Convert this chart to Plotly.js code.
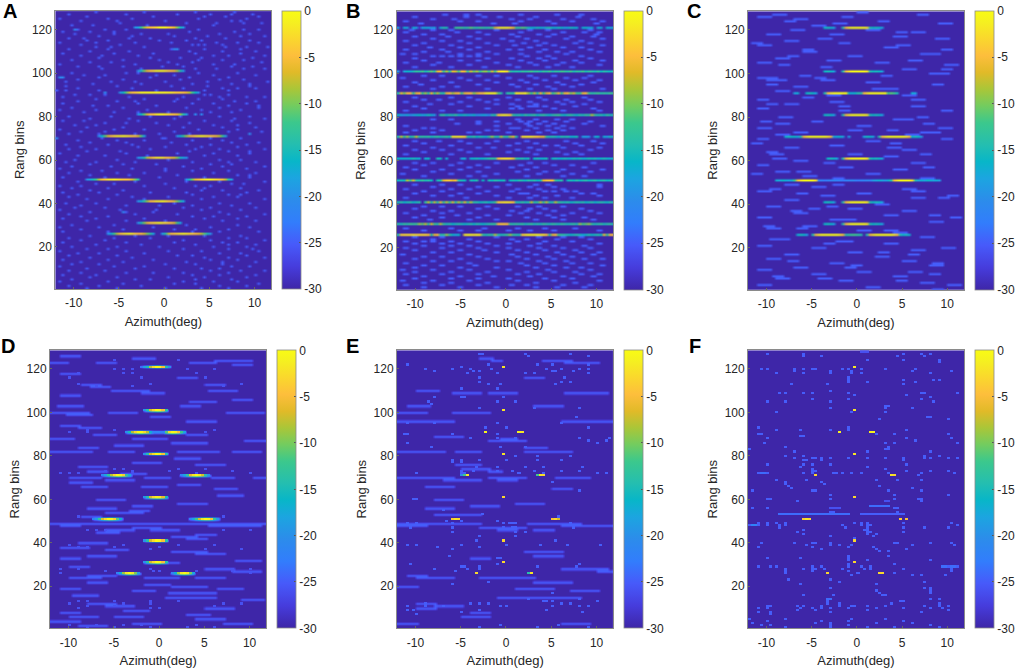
<!DOCTYPE html>
<html>
<head>
<meta charset="utf-8">
<script src="https://cdn.plot.ly/plotly-3.0.1.min.js"></script>
<style>html,body{margin:0;padding:0;background:#fff}#chart{width:1017px;height:669px}</style>
</head>
<body>
<div id="chart"></div>
<script>
const x_ticks = [-10, -5, 0, 5, 10];
const x_tick_labels = ["-10", "-5", "0", "5", "10"];
const y_ticks = [20, 40, 60, 80, 100, 120];
const cb_ticks = [0, -5, -10, -15, -20, -25, -30];
const cb_tick_labels = ["0", "-5", "-10", "-15", "-20", "-25", "-30"];
const panel_letters = ["A", "B", "C", "D", "E", "F"];

// parula
const parula = [[0,"rgb(62,38,168)"],[0.08,"rgb(70,60,220)"],[0.16,"rgb(71,90,250)"],[0.24,"rgb(50,125,252)"],[0.32,"rgb(44,140,235)"],[0.4,"rgb(28,165,224)"],[0.46,"rgb(8,182,200)"],[0.52,"rgb(36,190,176)"],[0.6,"rgb(60,200,140)"],[0.66,"rgb(115,204,95)"],[0.72,"rgb(170,198,56)"],[0.78,"rgb(225,186,40)"],[0.84,"rgb(253,190,60)"],[0.9,"rgb(250,215,45)"],[0.96,"rgb(245,240,32)"],[1,"rgb(249,251,20)"]];

// A
const A_ridge_rows = [121,101,91,81,71,71,61,51,51,41,31,26,26];
const A_ridge_start = [-3.3,-2.76,-4.9,-2.9,-7.2,1.36,-3,-8.4,2.6,-2.9,-2.76,-6.1,-0.1];
const A_ridge_db = [
 [-20,-18,-13,-9,-6,-5,-4,-3,-1,-1,-1,-3,-4,-6,-10,-15,-19],
 [-20,-15,-10,-6,-4,-3,-1,-1,-1,-2,-4,-5,-6,-9,-14,-19],
 [-20,-16,-11,-7,-5,-4,-3,-1,-1,-1,-1,-1,-1,-1,-1,-1,-2,-2,-3,-4,-4,-5,-6,-8,-12,-16,-20],
 [-20,-16,-11,-7,-5,-4,-2,-1,-1,-2,-3,-4,-5,-6,-9,-14,-19],
 [-20,-16,-11,-7,-5,-3,-2,-2,-1,-2,-3,-4,-5,-7,-11,-18],
 [-20,-17,-13,-9,-6,-5,-3,-2,-1,-2,-3,-4,-5,-6,-8,-12,-19],
 [-20,-18,-14,-8,-6,-4,-2,-2,-2,-4,-5,-6,-7,-10,-15,-18,-20],
 [-20,-18,-15,-12,-8,-5,-4,-2,-2,-1,-2,-3,-4,-4,-5,-7,-10,-14],
 [-20,-15,-10,-6,-5,-3,-2,-1,-1,-2,-3,-4,-5,-8,-14,-19],
 [-20,-17,-13,-9,-5,-4,-2,-2,-1,-2,-4,-5,-7,-10,-14,-18],
 [-20,-15,-10,-6,-4,-3,-2,-1,-2,-3,-4,-5,-7,-12,-18],
 [-20,-17,-12,-8,-5,-3,-2,-1,-2,-4,-5,-5,-7,-10,-13,-18],
 [-19,-14,-8,-5,-4,-3,-2,-1,-2,-3,-4,-5,-6,-8,-11,-15,-20]
];
const A_speck_rows = [128,127,126,125,124,123,122,120,119,118,117,116,115,114,113,112,111,110,109,108,107,106,105,104,103,102,100,99,98,97,96,95,94,93,92,90,89,88,87,86,85,84,83,82,80,79,78,77,76,75,74,73,72,70,69,68,67,66,65,64,63,62,60,59,58,57,56,55,54,53,52,50,49,48,47,46,45,44,43,42,40,39,38,37,36,35,34,33,32,30,29,28,27,25,24,23,22,21,20,19,18,17,16,15,14,13,12,11,10,9,8,7,6,5,4,3,2,1];
const A_speck_az = [[-7.4,-2.2,3.3,7.9],[-10.7,-4.1,1.6,5.2,7.6,9.8],[-8.6,-1.3,4.4,6.8,10.4],[-11.4,-6.2,-3.4,3.7,9.1],[-9.3,-5.1,0.2,7.4,8.3],[-4.8,2.6,5.9,8.7,10.9],[-10.2,-7.8,-1.9,5.5],[-9.7,-6.6,-4.3,3.9,8.8,10.3],[-11.1,-8.2,-5.4,2.9,7.7],[-9.9,-5.7,-2.6,0.6,6.1,9.6],[-7.2,-3.7,1.2,4.8,8.4,11.2],[-10.6,-8.9,-3.9,-1.7,3.4,6.9],[-8.7,-6.3,-0.4,2.3,4.2,9.4],[-11.5,-7.6,-3.2,0.8,5.8,8.1,10.6],[-9.1,-4.9,3.1,3.7,4.4,6.6],[-7.7,-5.8,-2.3,6.7,9.2,11.3],[-10.4,-6.1,0.7,1,1.3,1.6,4.6,8.6],[-8.3,-3.8,2.7,6.4,10.2],[-11.2,-5.6,-1.2,3.6,8.3],[-9.2,-6.9,-2.9,5.3,7.1,11],[-7.3,-1.6,1.7,4.1,9.7],[-10.1,-4.4,-0.6,3.8,6.3,8.9],[-8.1,-5.9,0.3,3.2,10.7],[-11.6,-3.1,1.4,5.6,7.8],[-9.6,-7.1,-4.7,-0.2,2.1,7.3,9.9],[-6.8,-2.7,3.5,5.9,8.9,11.1],[-10.3,-4.2,-2.8,3.9,8.2],[-8.8,-6.4,-0.9,1.1,5.4,10.1],[-11.7,-11.4,-7.2,-1.4,2.8,7],[-9.4,-4.6,1.9,6,8.8],[-10.9,-6,-3.3,0.1,4.7,11.3],[-7.9,-2.4,3,7.5,9.3],[-11,-5.2,0.9,4.9,9.5],[-9.7,-3.6,2.2,6.5,8,10],[-11.8,-11,-7.3,-0.8,4.3,7.2],[-10,-8.1,-6.4,4.5,5,7],[-11.3,-4,2,6.2,9,11],[-7.5,-2.1,1.3,3.8,6.6],[-9.5,-5.3,-3.1,1,7.9,10],[-11.1,-2.9,3.1,5.6,9.2],[-8,-6.2,-0.9,7.1,10.6],[-10.1,-4.5,2.5,6.1,10.4],[-11.4,-7.4,-2,4.1,8.6],[-9,-5.5,-3,0.5,5.2,7.6],[-10.6,-5.9,-1.5,1.9,6.2,9.4],[-8.2,-3.9,1.1,7.9,11],[-11.2,-8.9,-2.9,4.6,7.4],[-6.6,-4.3,-0.9,2.9,9.6],[-10,-7.6,0.6,5.4,8.2],[-8.4,-4.6,2,6.4,10.1],[-11.6,-5.6,-2.1,3.9,8.1],[-9.1,-6.6,1.1,7.1,10.8],[-10.4,-7.1,-3.1,-0.5,2.9,9.6],[-11.9,-7,-0.3,0,5,8.4],[-9.4,-5.1,-2.1,3.2,6.6],[-8.1,-4.1,0.9,7.6,10.5],[-11,-6.1,-3.4,2.6,5.1,9],[-9.2,-3,0.2,4,8.1],[-10.6,-7.4,-1.6,3.4,6,11],[-8.6,-5,2.9,7.2,9.4],[-11.5,-4.1,1.6,5.4,9.6],[-9.6,-6.4,-2,4.6,8],[-10,-5.1,0.6,6.1,8.6],[-11,-7.6,-3.1,3.1,7.1,10],[-8.1,-4.4,-1,5.1,7.6],[-10.2,-6,2.1,6.4,11],[-11.4,-3.6,0,4.1,9],[-9.1,-7,0.1,3.1,7.1],[-10.6,-5.1,-2.1,5.6,10.2],[-8.1,-3.9,1.6,8.1,9.5],[-11.1,-6.6,-0.6,4.6,9.6],[-9.6,-3.1,2.6,6.1,11],[-7.6,-5.6,0.1,7.6,8.8],[-11.6,-9.1,-2.1,3.6,5.1],[-10.1,-6.1,1.1,4.5,8.6],[-8.1,-4.6,4.1,6.6,10.6],[-11.1,-7.1,-1.6,2.6,9.1],[-9.6,-5.1,3.1,7.1,8.3],[-10.6,-3.6,0.6,5.6,8.1],[-8.6,-6.1,-2.1,4.1,11],[-11,-7.6,1.1,6.1,9.6],[-9.2,-4.1,-0.6,3.1,7.6],[-10,-6.6,2.1,5,10],[-11.6,-5,-1,4.1,8.6],[-8.1,-4.7,-4.3,-1.1,6.1],[-10.6,-3.1,1.6,7.1,11],[-9.1,-6.1,3.1,5.6,9.1],[-11.1,-7.6,-2.1,4.6,8],[-8.6,-4.1,0.1,6.6,10.1],[-10.1,-5.6,2.6,8.1],[-11.6,-7.1,-1.1,5.1,9.6],[-9.1,-4.6,1.1,3.6,7.1],[-11.2,-6.1,3.1,6.1,10.6],[-8.1,-3.1,0.6,4.6,8.6],[-10.6,-5.6,-1.6,7.1,9.1],[-9.1,-6.6,2.1,5.1,11],[-11.1,-4.1,1.1,6.6,8.1],[-7.6,-2.6,3.6,7.1,10],[-10.1,-5.1,-0.6,5.6,9.1],[-8.6,-6.1,2.1,7.1,9.8],[-11.6,-4.1,0.6,4.1,10.6],[-9.6,-7.1,-2.1,6.1,8.6],[-10.6,-5.1,1.6,3.1,9.1],[-8.1,-3.6,4.6,7.1,11],[-11.1,-6.1,-1.1,5.1,8.1],[-9.1,-4.6,2.6,6.6,10.1],[-10.1,-7.1,0.1,3.6,6.6],[-11.6,-5.6,-2.1,7.6,9.6],[-8.6,-3.1,1.1,4.1,6.1],[-10.6,-6.6,5.1,8.6,11],[-9.1,-4.1,-1.1,2.1,7.1],[-11.1,-7.6,3.1,6.1,10.1],[-8.1,-5.1,0.6,4.6,9.1],[-10.1,-3.1,-1.6,3.6,7.6],[-11.6,-6.1,2.1,5.6,8.1],[-9.1,-4.6,1.1,3.6,10.6],[-10.6,-7.1,-2.6,6.1,9.1],[-8.6,-5.1,0.1,4.1,7.1]];
const A_hot_rows = [111,98,120,91,81,81,72,70,36];
const A_hot_az = [[1,1.3,1.6],[-11.6,-11.3],[-9.8],[-6.4],[3.4],[4],[9.6],[-11.9],[-4.6]];

// B
const B_line_rows = [121,101,91,81,71,61,51,41,31,26];
const B_line_db = [
 [-18,-30,-17,-18,-30,-17,-18,-28,-18,-17,-18,-19,-18,-30,-17,-14,-15,-30,-30,-13,-12,-12,-14,-13,-11,-13,-14,-12,-13,-14,-13,-12,-7,-3,-1,-1,-1,-3,-6,-12,-13,-11,-12,-15,-16,-17,-15,-16,-18,-15,-14,-16,-17,-15,-16,-18,-17,-15,-16,-17,-30,-17,-16,-18,-17,-30,-18,-17,-30,-17,-18,-17],
 [-19,-30,-18,-16,-17,-15,-13,-14,-12,-15,-13,-11,-14,-6,-5,-13,-8,-14,-6,-7,-12,-5,-6,-13,-7,-11,-8,-13,-10,-9,-13,-7,-12,-3,-1,-1,-3,-13,-15,-14,-15,-13,-14,-13,-12,-14,-13,-15,-13,-14,-12,-15,-13,-14,-12,-13,-14,-12,-15,-13,-14,-12,-15,-13,-14,-15,-13,-16,-14,-15,-16,-14],
 [-14,-6,-10,-5,-5,-12,-6,-5,-12,-9,-13,-6,-12,-8,-13,-14,-6,-5,-9,-6,-5,-12,-6,-5,-5,-10,-7,-5,-5,-1,-1,-1,-1,-11,-14,-30,-14,-13,-14,-1,-2,-2,-1,-9,-12,-8,-13,-6,-12,-7,-5,-13,-10,-6,-12,-6,-5,-10,-7,-12,-13,-6,-5,-12,-14,-13,-12,-14,-13,-14,-12,-13],
 [-16,-18,-19,-17,-20,-18,-17,-16,-18,-17,-15,-17,-19,-30,-14,-13,-16,-14,-15,-13,-17,-16,-15,-17,-18,-16,-20,-19,-17,-18,-21,-14,-15,-4,-2,-1,-2,-4,-13,-15,-14,-16,-13,-15,-14,-13,-16,-14,-13,-15,-16,-14,-13,-12,-15,-16,-14,-13,-15,-16,-14,-15,-13,-14,-8,-13,-15,-14,-16,-13,-15,-14],
 [-14,-8,-13,-9,-15,-13,-8,-14,-13,-14,-13,-15,-14,-13,-15,-14,-13,-15,-2,-2,-2,-2,-4,-14,-15,-13,-16,-14,-15,-17,-13,-9,-14,-15,-8,-13,-14,-9,-6,-14,-30,-3,-2,-2,-2,-3,-4,-6,-6,-13,-15,-14,-15,-17,-14,-15,-14,-17,-16,-15,-30,-19,-18,-20,-30,-18,-16,-30,-17,-19,-15,-17],
 [-16,-17,-16,-17,-16,-15,-16,-17,-30,-17,-16,-30,-30,-15,-16,-30,-17,-30,-30,-30,-30,-18,-17,-30,-17,-16,-15,-17,-16,-15,-14,-13,-14,-5,-3,-2,-2,-3,-6,-13,-15,-14,-16,-15,-30,-16,-15,-17,-16,-15,-30,-16,-15,-17,-16,-15,-16,-17,-15,-16,-15,-17,-16,-15,-16,-15,-17,-16,-15,-16,-17,-16],
 [-16,-15,-16,-8,-12,-7,-14,-15,-13,-15,-14,-16,-30,-15,-14,-6,-4,-4,-6,-5,-14,-15,-16,-30,-15,-16,-14,-30,-16,-30,-15,-16,-14,-15,-16,-15,-30,-16,-15,-16,-14,-15,-16,-14,-15,-14,-16,-15,-6,-4,-4,-5,-13,-15,-14,-30,-16,-15,-16,-14,-16,-15,-14,-16,-15,-14,-16,-15,-14,-16,-15,-13],
 [-15,-14,-16,-15,-14,-16,-15,-14,-30,-13,-8,-14,-8,-14,-6,-13,-8,-13,-7,-14,-8,-13,-7,-14,-8,-14,-14,-16,-15,-14,-16,-15,-12,-4,-3,-2,-2,-3,-5,-14,-15,-13,-15,-14,-8,-14,-13,-8,-13,-8,-15,-14,-8,-13,-14,-15,-14,-16,-15,-14,-15,-14,-16,-15,-14,-16,-15,-14,-15,-16,-14,-15],
 [-14,-15,-13,-14,-12,-13,-12,-9,-11,-8,-13,-7,-12,-14,-8,-13,-15,-14,-16,-15,-14,-15,-16,-15,-14,-16,-14,-15,-16,-15,-14,-13,-13,-5,-4,-4,-5,-13,-14,-13,-14,-13,-15,-14,-13,-15,-14,-15,-13,-14,-15,-13,-14,-15,-13,-14,-15,-14,-13,-15,-9,-12,-11,-9,-13,-15,-14,-13,-15,-14,-13,-15],
 [-14,-4,-3,-3,-3,-2,-3,-3,-3,-3,-5,-13,-6,-5,-14,-13,-9,-13,-16,-18,-16,-30,-2,-1,-1,-2,-1,-2,-13,-15,-13,-14,-8,-13,-15,-14,-12,-9,-13,-14,-15,-4,-2,-1,-1,-1,-1,-2,-2,-5,-13,-6,-5,-12,-13,-14,-15,-16,-15,-14,-15,-17,-16,-14,-16,-15,-14,-16,-6,-13,-5,-4]
];
const B_speck_rows = [127,126,125,124,123,120,119,118,117,116,115,114,113,112,111,110,109,108,107,106,105,104,103,99,98,97,96,95,94,93,89,88,87,86,85,84,83,79,78,77,76,75,74,73,69,68,67,66,65,64,63,59,58,57,56,55,54,53,49,48,47,46,45,44,43,39,38,37,36,35,34,33,29,28,25,24,23,22,21,20,19,18,17,16,15,14,13,12,11,10,9,8,7,6,5,4,3,2];
const B_speck_az = [[-6.8,-4.7,-3.1,1.3,5.4,8.2],[-10.3,-4.4,-2.6,-0.9,3.2,7.7],[-8.1,-5.9,0.4,2.3,6.2,9.3],[-11.2,-5.2,-3.3,1.6,4.4,7.1,10.6],[-9.4,-1.7,0.7,5.2,9.8],[-10.4,-8.2,-6.3,-1.2,2.3,4.4,9.1],[-11.3,-5.4,-3.2,1.4,6.2,8.4,10.2],[-9.2,-7.3,-2.1,0.3,3.4,5.2,9.8],[-10.1,-6.4,-4.2,1.2,4.3,7.1,9.3],[-8.3,-3.1,-0.7,2.2,6.4,10.3],[-11.2,-7.3,-5.1,0.6,3.1,8.2],[-9.3,-4.2,-2.3,1.7,4.1,7.3,9.2],[-10.2,-6.1,-1.3,0.7,3.3,5.2,10.4],[-8.4,-5.3,-3.1,2.4,6.2,8.1],[-11.1,-7.2,-4.3,0.2,1.3,4.1,9.2],[-9.2,-6.4,-2.1,3.3,5.4,7.2,10.1],[-11.4,-10.2,-5.3,-3.2,-1.1,1.4,6.3],[-8.3,-7.1,-6.2,-5.1,-4.2,-3.3,2.1,4.4,8.2],[-10.1,-2.2,0.3,3.4,5.1,9.2],[-9.3,-5.1,-3.2,1.3,4.2,7.4,10.5],[-11.1,-7.4,-1.2,2.3,6.1,8.2],[-8.2,-4.3,0.2,3.1,5.4,10.2],[-10.3,-6.2,-2.4,1.1,4.3,7.2],[-9.1,-7.3,-3.2,-1.1,2.4,5.2,9.1],[-11.4,-5.3,0.1,3.2,6.3,8.4],[-8.3,-4.1,-2.2,1.4,4.1,7.3,10.1],[-10.2,-6.3,-1.1,2.2,5.3,9.4],[-9.4,-3.1,0.3,3.2,6.1,8.2],[-11.1,-7.2,-5.4,1.1,4.3,7.1],[-8.1,-2.3,2.4,5.1,10.3],[-10.3,-6.1,-4.2,0.2,3.3,8.4],[-9.2,-7.4,-3.1,-1.3,1.2,4.1,6.3,9.1],[-11.3,-5.1,-2.2,2.3,5.4,7.2,10.1],[-8.4,-6.2,-1.1,0.3,3.1,6.2,8.3],[-10.1,-4.3,1.2,2.3,3.2,4.1,7.4],[-9.3,-2.1,0.6,1.6,5.2,9.3],[-11.2,-7.1,-5.3,3.4,6.1,10.2],[-8.3,-6.1,1.2,3.1,5.3,7.2],[-3.2,-1.1,1.3,2.4,4.1,6.3,9.2],[-5.4,-3.3,0.2,2.1,3.4,5.1,8.3],[-11.1,-1.2,2.3,4.4,6.1,10.4],[-9.3,-8.1,0.3,1.1,3.2,5.4,7.1],[-10.2,-7.1,-2.3,-1.1,2.2,4.3,6.1],[-11.3,-8.2,-4.1,-3.2,0.1,3.3,5.2],[-10.1,-7.4,-5.2,-1.3,2.1,6.3,9.4],[-9.2,-4.1,-2.3,1.2,3.1,7.4,10.5],[-11.3,-6.2,0.1,4.2,5.3,8.1],[-8.2,-3.1,-1.4,2.3,6.1,10.2],[-10.3,-7.1,-5.2,1.1,3.3,9.2],[-9.1,-4.3,0.2,2.1,5.3,7.4],[-11.2,-6.1,-2.3,3.2,6.4,8.1],[-10.1,-8.3,-5.1,-1.2,2.3,4.1,9.3],[-9.3,-6.2,-3.1,1.4,5.2,7.1],[-11.1,-4.3,-2.1,0.3,3.2,8.4],[-10.2,-7.3,-5.1,2.2,6.1,10.3],[-8.1,-3.3,1.1,4.2,5.3,9.1],[-11.4,-6.1,-1.2,3.3,7.1],[-9.2,-4.1,-2.4,2.1,6.2,8.3],[-10.3,-7.2,-5.3,0.1,3.2,4.3,10],[-8.2,-3.1,-1.3,2.4,5.1,10.2],[-11.1,-6.3,-4.1,1.2,3.4,6.1],[-9.3,-7.1,-2.2,0.3,4.1,5.2,6.3,7.4],[-10.2,-5.1,-3.3,1.4,2.2,8.1,9.3],[-8.3,-6.1,-1.1,3.2,5.4,10.1],[-11.2,-4.4,0.1,2.3,4.2,7.1],[-9.1,-7.3,-5.2,-2.1,1.1,3.3,6.2],[-10.3,-3.1,-1.2,2.4,4.1,8.2],[-8.2,-6.3,0.3,2.1,5.2,9.1],[-11.1,-7.2,-4.1,1.3,3.4,7.1,10.2],[-9.3,-5.4,-2.1,0.1,4.3,6.2],[-10.1,-7.3,-3.2,2.2,5.1,8.4],[-8.4,-4.1,-1.3,3.1,6.2,9.3],[-11.2,-6.1,-2.4,1.1,4.2,7.3],[-9.1,-5.3,-3.1,0.2,2.4,5.1,10.1],[-10.3,-7.2,-1.1,3.3,6.1,8.2],[-8.1,-4.2,0.3,2.2,5.4,9.1],[-11.3,-9.1,-8.2,-6.1,-3.3,1.2,4.1,7.2],[-10.1,-7.3,-5.2,-2.1,0.2,3.4,10.1],[-9.2,-6.1,-4.3,-1.1,2.3,5.2,8.4],[-11.1,-7.2,-3.1,0.1,3.3,6.2,9.1],[-10.3,-5.1,-2.4,1.2,4.1,7.3],[-8.2,-6.3,-1.1,2.1,5.4,8.1,10.2],[-11.4,-4.1,0.3,3.2,6.1,9.3],[-9.1,-7.3,-3.2,1.1,4.4,7.1],[-10.2,-5.3,-2.1,2.2,5.1,8.3,10.4],[-8.3,-6.1,-1.2,0.1,3.3,6.4],[-11.1,-4.2,1.4,4.1,7.2,9.1],[-9.3,-7.1,-3.4,2.1,5.2,10.3],[-10.1,-5.2,-1.1,3.1,6.3,8.2],[-11.5,-8.2,-4.1,0.2,4.3,9.1],[-10.2,-6.1,-2.3,2.2,5.1,7.4],[-11.1,-7.3,-3.2,1.1,3.3,8.2,10.1],[-9.2,-5.1,-1.4,2.3,6.1,9.3],[-10.3,-6.2,-3.1,0.1,4.2,7.1],[-11.5,-8.1,-4.3,1.2,5.1,10.2],[-9.1,-6.3,-2.1,3.2,7.4],[-11.2,-7.1,-3.3,0.3,2.1,6.2,9.1],[-9.3,-5.1,-1.2,3.1,5.3,8.4]];

// C
const C_ridge_rows = [121,121,121,101,101,101,91,91,91,91,91,91,91,81,81,81,71,71,71,71,71,71,71,61,61,61,51,51,51,51,51,41,41,41,31,31,31,26,26,26,26,26];
const C_ridge_start = [-3.4,-1.6,1.8,-3.4,-1.6,1.8,-7,-5.5,-3.7,-0.9,0.45,3.6,6,-3.4,-1.6,1.9,-7.8,-6.1,-2.5,-0.8,0.8,2.4,6,-3.2,-1.6,1.9,-9,-7,-4.2,1.7,3.75,-3.4,-1.6,1.9,-3.4,-1.6,1.9,-6.7,-4.9,-1,1.2,5];
const C_core = [-14,-5,-2,0,0,0,0,0,-2,-14];
const C_core_long = [-14,-5,-2,0,0,0,0,0,0,-2,-5,-14];
const C_side = [-16,-15,-16,-18];
const C_ridge_db = [C_side,C_core,C_side,C_side,C_core,C_side,[-18,-17],C_side,C_core_long,[-16,-17,-16],C_core_long,[-12,-11,-12,-15],[-17,-18],C_side,C_core,C_side,[-17,-15,-16,-16,-18],C_core_long,[-18,-17,-16,-18],[-19],[-18,-15,-16,-18],C_core_long,[-16,-15,-16,-19],C_side,C_core,C_side,[-17,-18,-16,-17,-18,-17],[-12,-5,-2,0,0,0,0,-3,-14],[-22,-22,-23,-22,-22,-21,-22,-22,-23,-22,-22,-21,-22,-23,-22,-22,-21,-22],[-19,-18,-17,-18,-19,-17],[-14,-5,-2,0,0,0,0,-3,-14,-18,-17,-18,-16,-17,-18,-17,-19],C_side,C_core,C_side,C_side,C_core,C_side,[-17,-15,-16,-19],C_core_long,[-13,-12,-12,-13,-14],C_core_long,[-16,-15,-17]];
const C_streak_rows = [128,126,125,122,119,118,118,117,115,114,112,110,109,108,107,105,105,103,102,100,98,97,97,96,94,93,92,90,89,88,87,86,85,84,83,79,78,77,76,75,74,73,73,72,70,69,67,66,65,64,63,62,60,59,58,57,56,55,54,53,52,49,48,47,46,45,44,43,42,40,39,38,37,36,35,34,33,32,30,29,28,27,25,24,23,22,21,20,19,18,17,16,15,14,13,12,11,10,9,8,7,6,5,4,3,2,
 127,127,124,124,123,123,120,120,116,116,113,113,111,111,106,106,104,104,99,99,95,95,90,88,85,83,80,80,78,77,74,72,70,68,68,63,63,59,57,55,54,49,47,45,44,43,39,37,35,33,30,28,24,22,20,18,14,13,11,9,7,6,3,1,126,119,114,108,102,98,93,86,75,66,61,52,46,38,34,29,23,17,12,8,5];
const C_streak_from = [0,-11,-7,-5,6,-10,-3,4,-8,-2,3,-6,7,-1,-9,-11,2,-4,5,8,-11,-10,-4,1,-7,3,-9,5,-6,-11,-3,-8,6,-11,-2,4,-5,-9,0,-11,-1,-7,7,-9,-11,1,-3,-8,5,-10,-1,3,-7,6,-11,-2,4,-9,1,-6,7,-8,-5,5,-11,0,-4,6,-8,2,-10,-1,5,-7,3,-11,-3,8,-6,-10,0,4,7,-9,-2,3,-11,-5,6,-1,-8,2,-10,5,-3,8,-7,-11,0,-5,4,-9,-2,7,-11,1,
 -9.3,6.7,-8,2.3,-2.4,9.2,-7.1,1.2,-4.3,8.7,-11,4.6,-5.8,9.5,-3.3,5.7,-8.7,9.9,-6.3,2.9,-10,8.4,-3.1,6.2,-1.8,9.3,-8.4,6.8,-10.7,7.3,3.5,5.6,9.4,-11.5,3.8,-9.5,7.2,-3.6,7.4,-6.4,-11.6,-2.7,-9.4,-6.6,10.1,9,-3.3,-7.2,8.1,-1.2,-10.3,3.1,-9.6,-3.7,9.6,2.3,-7.7,8.4,-1.2,5.7,-9.2,-4.1,10.2,8.3,-1.6,4.3,-11.7,-7.4,9.3,-4.7,1.7,-10,9.1,3.6,-9.1,-2.7,6.2,-5.2,10.4,-6.6,-2.1,5.8,-0.6,8.1,4.4];
const C_streak_to = [1,-9.5,-5.5,-3.5,7.5,-8.5,-1.5,5.5,-6.5,-1,4.5,-4.5,9,0.5,-7.5,-9.5,3.5,-3,6.5,10,-9,-8,-2.5,2.5,-5.5,4.5,-7.5,6.5,-5,-10,-1.5,-6.5,7.5,-10,-1,6,-4,-7.5,1.5,-9.5,0.5,-5.5,9,-7.5,-10,2.5,-1.5,-6.5,6.5,-9,0.5,4.5,-5.5,7.5,-10,-0.5,5.5,-7.5,2.5,-4.5,8.5,-6.5,-3.5,6.5,-9.5,1.5,-2.5,7.5,-6.5,3.5,-8.5,0.5,6.5,-5.5,4.5,-9.5,-1.5,9.5,-4.5,-8.5,1.5,5.5,8.5,-7.5,-0.5,4.5,-9.5,-3.5,7.5,0.5,-6.5,3.5,-8.5,6.5,-1.5,9.5,-5.5,-9.5,1.5,-3.5,5.5,-7.5,-0.5,8.5,-9.5,2.5,
 -8,7.8,-6.8,3.4,-1.2,10.3,-6,2.6,-3,10,-9.7,5.8,-4.8,10.6,-2,7,-7.4,11,-5.2,3.9,-8.8,9.4,-2,7.6,-0.8,10.6,-7.2,7.8,-9.6,8.4,4.6,6.8,10.6,-10.6,4.7,-8.3,8.2,-2.4,8.4,-5.2,-10.6,-1.5,-8.4,-5.4,11.2,10.2,-2.3,-6.2,9.2,-0.1,-9.2,4.3,-8.4,-2.6,10.7,3.4,-6.6,9.6,-0.1,7,-8.1,-3,11.3,9.4,-0.6,5.4,-10.6,-6.4,10.4,-3.6,2.9,-8.9,10.3,4.8,-7.9,-1.6,7.3,-4.1,11.5,-5.5,-1,6.8,0.6,9.2,5.6];

// D
const D_ridge_rows = [121,101,91,91,81,71,71,61,51,51,41,31,26,26];
const D_ridge_start = [-2,-1.5,-3.5,0.2,-1.5,-6.1,2.6,-1.5,-7.2,3.3,-1.5,-1.5,-4.4,1.5];
const D_ridge_db = [
 [-24,-19,-15,-8,-3,0,-1,-5,-14,-20],
 [-20,-14,-7,-3,0,-1,-5,-14],
 [-20,-15,-8,-3,0,0,-3,-8,-17,-22,-22,-22],
 [-22,-22,-11,-3,0,-1,-5,-12,-18],
 [-20,-14,-7,-3,0,-1,-5,-14],
 [-22,-18,-13,-8,-3,0,-1,-4,-13,-18],
 [-22,-18,-13,-6,-2,0,-2,-7,-14,-20],
 [-20,-14,-7,-3,-1,-2,-6,-15],
 [-22,-19,-13,-7,-3,0,-1,-4,-11,-17],
 [-22,-18,-12,-7,-2,0,-1,-5,-13,-19],
 [-20,-14,-7,-3,0,-1,-5,-14],
 [-20,-14,-7,-3,0,-1,-5,-14],
 [-22,-17,-9,-2,0,-2,-10,-19],
 [-22,-17,-9,-2,0,-2,-10,-18]
];
const D_streak_rows = [126,125,124,123,123,123,122,118,116,113,113,110,110,109,106,103,103,100,100,100,98,96,94,90,90,88,88,87,86,84,82,82,82,82,77,76,75,73,70,70,70,70,69,66,66,65,60,58,57,56,54,49,48,48,47,46,46,44,43,40,38,36,35,34,33,31,29,28,27,24,24,24,22,20,19,19,18,17,15,12,11,10,8,6,6,5,4,3,3,2,
 112,108,105,99,93,85,79,72,68,67,62,55,52,45,42,37,32,25,21,16,14,9,7];
const D_streak_from = [-11,-3,6,-12,-7,3.5,8,-11,2,-8.6,5,-5.2,5.5,-2,8,-11.2,2.4,-12,-5.5,7.5,-1,3,-11,-7.2,3,-12,-3,9.5,1.5,-9,-12,-5.5,2,8,-3,4,-9,-8,-10,-1.5,5.7,10.5,-6,-8.5,-2,6,-7,2,-3,-8,-6,-12,-11,5.5,-3,-1,-6,4,1.5,-9,-11,1.5,4,-8,-11,-1,-10,5,8,-10,-1.5,4,-8,1.3,-11,6.5,-3,1,0.7,-8,-6,5,-11,-10,-5,4,-12,-3,7,-9,
 -7.5,-11,3.3,-10.3,-9,-5,1.7,-4.2,-10,2,6.5,-3.3,-8.6,-7,3,-6,8.6,-7.8,-1.4,-9.4,9,-4,3];
const D_streak_to = [-9,-0.4,10,-10.3,-5,6,10,-9,4,-6.4,7,-1.3,8.5,0.5,10,-8.6,4.6,-8,-2.5,11.5,1,6,-9,-5,5,-9.5,0.8,12,5,-7,-7.6,-3,6.5,11,0,7,-6,-6,-6.5,1,8,12,-3,-6,0.8,8.5,-4,5,-1,-5,-2,12,-9,11,0,2,-3,6,4,-6,-8,5,7,-5,-9,2,-8,8,11,-6.5,2,7,-6,5,-9,9,-0.5,6,6,-5,-3,8,-9,-7,-2,7,-9,0,10,-6,
 -5.5,-9,6,-7.6,-6.5,-2,4.6,-1.5,-7.5,4.5,9,-1.2,-6.4,-4.5,5,-3.4,11,-5,1,-7,11.5,-1.2,5.4];
const D_speck_rows = [124,120,118,116,113,112,92,91,74,73,72,52,46,39,38,37,28,27,26,13,12,11,10,2,1];
const D_speck_az = [[-5,2],[-5,-4,-3,3,6],[-9,-4,-3,4],[-10,-2,5],[-9,-1,9],[-7,-3,7],[-8,-5,6],[-10,-8,5],[-5,-4,2,5],[-6,-3,1,8],[-11,-10,-9,-3,4,10],[-9,7],[-8,-7,-6,7,10],[-10,-4,2,6],[-9,-8,-5,0],[-1,5,9],[-11,-9,-1,8,10],[-6,-0.5,0,4,8],[-11,10],[-9,-8,-5,-1,2],[-10,-4,-1,7,9],[-8,-5,-3,6],[-9,-1,0],[-10,-7,-4,-2,4],[-8,-5,-1,3,6]];

// E
const E_peak_rows = [121,101,91,91,81,71,71,61,51,51,41,31,26,26];
const E_peak_start = [-0.33,-0.33,-2.1,1.4,-0.33,-4.8,3.4,-0.33,-6,5,-0.33,-0.33,-3.3,2.4];
const E_peak_db = [[-2],[-2],[-1],[-1,-2],[-2],[-20,-12,-2],[-12,-2,-3],[-3],[-4,-2,-3],[-5,-3,-7],[-3],[-3],[-3],[-14,-2]];
const E_streak_rows = [125,124,124,123,116,110,109,109,109,103,103,100,100,96,96,89,88,87,84,82,82,82,76,74,73,70,70,70,70,69,69,66,65,60,58,57,56,53,49,49,48,48,47,46,46,36,34,33,28,27,25,24,24,22,20,19,18,15,15,12,11,10,8,6,3,3];
const E_streak_from = [-3,-1.5,4,6.5,2,-10,-6,-2,6.5,-11,3,-12,-6,-12,6,-8,-0.5,-2,2,-12,-5.5,2,-5.5,-5,-2,-12,-8.5,-2,5.5,-7,-1,-9,5,-8,1,-4,-9,-8,-12,2.5,-12,6,-3,-1,3,2,3,-4,6,10,-11,-10,-3,3,-12,1,7,-1,4,-10,-8,-10,-4,-5,-12,6];
const E_streak_to = [-1.5,-0.4,7,10,4,-7.5,-3,1,11,-8.5,6,-9,-2,-6,12,-5,1,2,4.5,-7,-3,7,-3,-2,-0.5,-9,-6,2,9,-3,1,-6,7,-5,4,-1,-6,-3,-3,8,-9,12,2,1,5,6,6,-2,11,12,-9,-6,3,7,-10,5,10,4,8,-8,-5,-8,-2,-2,-10,9];
const E_speck_rows = [127,126,122,121,120,119,118,116,114,113,111,107,105,104,102,98,95,93,90,88,87,86,84,80,78,77,75,73,72,68,64,60,55,53,52,50,49,47,45,43,41,39,38,37,34,33,30,29,28,27,22,21,17,14,13,12,11,9,8,7,2,1];
const E_speck_az = [[-3,-2.5,2,7],[2.5,9],[-11,-2,3.5,5,9],[-5],[-9,-6,-4,-1.5,4.5,6,8,9],[-8,-3.5,-3,5,5.5,7.5],[-4.3,-1,2,3,9],[-3,6.5],[-2.8,6,7],[-0.6,-2,5.5],[-1,-5],[-8,-0.3,-5,-4.7],[-8.5,-1,1],[-8.2],[-3,3,8],[7.7,7.9],[-11,-8,-1,6],[-2.3,-2.1,0,9],[-11.2,-10.8,-6,-1],[-4,-1,1,8,11.5],[9,11],[-11,10],[-8.2,-0.5,2],[1,3.5,7],[-6,-5,-3,0,3.5,6],[-5.8,-4.8],[-3.3,-1,2,4,8.5],[-5,-3.5,-1,0.7,3,6,8],[-10,-4.9,-4.6,1.5,4,10,11],[5],[8],[-10,-10.3],[-7],[-2.5],[5.8],[-6.5,-5,-1],[-11,-10,-6,-0.3,0.5,0.8,1,7],[-10.5,-6,-0.3,0.7,1,7.5],[-6,1.2,2],[-3,1.2],[-3.3,5.3],[-11,-10,-5,0,3.7,6.8,10.5],[-7.5,-3],[-6],[-6.2],[-0.7,-1],[-10.5,-1,8],[-5,-4.5,-3,3.5,7.7],[-8,-4.2,-3],[-5.5],[-1.8],[-6],[5],[2.5,8],[4,4.5,5,10],[-9,-4,-3,-2,6,7],[-11,-9,-7,-0.5,0,5,8,9],[-11,-10.3,-3,4.5],[-5,8.5],[-10],[-0.7,5.7],[-3,3.5,9]];

// F
const F_peak_rows = [121,101,91,91,81,71,71,61,51,51,51,41,31,26,26];
const F_peak_start = [-0.33,-0.33,-2,1.4,-0.33,-4.5,3.7,-0.33,-6,4.8,5.4,-0.33,-0.33,-3.3,2.5];
const F_peak_db = [[-2],[-2],[-1],[-1,-1],[-2],[-3],[-2,-3],[-3],[-4,-2,-3],[-4],[-5],[-3],[-3],[-3],[-3,-3]];
const F_streak_rows = [53,53,57,56,59,48,72,29,14,128];
const F_streak_from = [-8.6,0.3,1.4,-3,3,-11.8,-10.5,9.5,-3.3,0.6];
const F_streak_to = [-1,5,3.6,-2,3.6,-11,-9.8,10.8,-3,1.1];
const F_streak_db = [-24,-25,-24,-26,-26,-22,-24,-24,-24,-26];
const F_speck_rows = [127,126,124,123,120,119,118,116,115,114,113,110,109,108,107,106,105,103,102,100,98,97,93,92,90,89,88,87,86,84,83,82,80,79,78,76,75,74,73,72,71,69,68,67,66,65,64,62,60,59,56,54,49,48,47,46,45,44,43,42,40,39,38,37,36,34,33,32,30,29,28,27,26,25,23,22,21,19,18,17,16,14,13,12,11,10,9,8,7,5,4,3,2,1];
const F_speck_az = [[-10,-6,5,7,8],[-6,-3.8,4.5,7.5],[1,5,9],[9],[-10.5,-10,-7,-6,-5,-4.7,-1.5,-1,0.5,3,6.5],[-7,-3,-0.5,6,10.5],[-9,-6,-3,-0.7,0.5,8],[-1],[-1,5,8.5,9],[-0.8,1,6.5],[-7.2,-3.3,5],[-3],[-8.5,-8,-6,-5,-1,7,7.5,11],[-0.3,5.5],[8],[-4.8,-1,7],[-10,-8,-3,8.5],[3,3.5],[-3,3,6],[-9,-0.5,3],[7.8,8],[2.5,10],[-11,-1],[-9,-6.3,-3,-1,5.5],[-11,-10.5,2,4,10],[-6.3,-6],[-10,5.5,10.5],[6.5],[-10.3,3,4,11],[-8,3.5],[-11.9,3.2,3.5],[-7,1,8],[-8,-6,7.5,9],[-7,-5,-4.5,-4,-3,-1,1,3,5,7.5,8,10,11],[-6,-5.5,-4,5],[-10,-6,-5,-3,5.5],[-6.2,1],[-5,3],[-5,-4.5,5.5,8,10],[-11,-10,-9.8,-6,-5,-2.7,-2.2,-1.5,-0.5,0.5,3.5,7,10.8],[6.9],[-9,-5.5,2,4.5,7],[-8,-4],[-7.8,-3.5],[-7.5,2.3],[-7.3,6],[-11.5,-5,-4.7,3.5,7],[-3,4,10],[-9.8,-9.5,-3,4,6.8,7.2],[-6.5,7.2],[-11.5,-10,4,4.5],[-3,-2.5,4.5],[-11,-10,-9,-8,-0.3,0.5,1,5,10.5],[-11.9,-11,-10,-8.5,-8,-1.5,0.5,1,1.3,11],[-8.5,-1.2,1,5,7.5,10],[-5.8,0.7,1.2],[-6.5,1,1.5,5],[-5.8,1.2,2],[-3,1.7],[-0.3],[-10.5,-7,-5,-4.5,-3,4,4.5,8,10.5],[-5.5,-3,-2,-0.5,6,10.7],[-11,-5,-1,1.7],[-4,2,5.5],[2.5,3.5],[-0.8,3.5],[-10,-6.3,-0.8],[-0.8,1,8],[-0.8,4],[-11,-9.5,-9,-5,-4,-1,0.5,1.5,10,11],[-8,-6,-5,-4.5,-3.5,-1.5,0.7,1.5,5,10.5],[-8,-5,-1,10.5],[-8,0,4],[-0.5,6,7,9.8],[-7.5,-3],[-1.8,7.5],[-6.3,2],[-3,7.6,8],[2,8],[2.5,8],[-6,-2.5,2.8,3],[8,9],[-3.3,4.7,5],[-3.3,-2,3.7,9],[-10,-9.5,-6.5,-6,-4,-2,-0.7,-0.3,1,3,7.5,9,10],[-11,-10,-6.3,-5,-4,-3,-1,2,5,8,9.5],[-6.5,1,-4.5,10],[-11,-9.6,-3,7],[-9.5],[-11.8,-8,-0.5,3],[-10,-4,-1,5],[-11.5,-4.5,-3,2,6],[-10.5,-9.5,-3,-1,8],[-8,-3,1,4,9]];

const panels = {
	A: {box: [55.3, 271.7, 10.7, 289], cb: [282, 301], top_smooth: "fast", ridge: [A_ridge_rows, A_ridge_start, A_ridge_db], speck: [A_speck_rows, A_speck_az], speck_db: -25, hot: [A_hot_rows, A_hot_az]},
	B: {box: [397, 614, 11, 289.7], cb: [624.3, 643.3], top_smooth: "fast", ridge: [[], [], []], line: [B_line_rows, B_line_db], speck: [B_speck_rows, B_speck_az], speck_db: -25, speck_cells: 2},
	C: {box: [748.7, 965, 11, 289.7], cb: [975.3, 994], top_smooth: "fast", ridge: [C_ridge_rows, C_ridge_start, C_ridge_db], streak: [C_streak_rows, C_streak_from, C_streak_to], streak_db: -25},
	D: {box: [50, 266.7, 350, 628.3], cb: [276.7, 295.7], top_smooth: false, ridge: [D_ridge_rows, D_ridge_start, D_ridge_db], soft_ridge: true, streak: [D_streak_rows, D_streak_from, D_streak_to], streak_db: -25, soft_streak: true, speck: [D_speck_rows, D_speck_az], speck_db: -26},
	E: {box: [397.3, 614, 350, 628.3], cb: [624, 643], top_smooth: false, ridge: [E_peak_rows, E_peak_start, E_peak_db], streak: [E_streak_rows, E_streak_from, E_streak_to], streak_db: -25, soft_streak: true, speck: [E_speck_rows, E_speck_az], speck_db: -25},
	F: {box: [748.7, 965, 350, 628.3], cb: [975, 994], top_smooth: false, ridge: [F_peak_rows, F_peak_start, F_peak_db], streak: [F_streak_rows, F_streak_from, F_streak_to], streak_dbs: F_streak_db, speck: [F_speck_rows, F_speck_az], speck_db: -25}
};

const W = 1017, H = 669;
const az_first = -11.87, az_step = 1 / 3, n_az = 72, n_rows = 128;
const az_axis = Array.from({length: n_az}, (_, i) => az_first + i * az_step);
const row_axis = Array.from({length: n_rows}, (_, i) => i + 1);
const col_of = az => Math.round((az - az_first) / az_step);

function set_cell(z, row, col, db) {
	if (row >= 1 && row <= n_rows && col >= 0 && col < n_az) z[row - 1][col] = db;
}

// soft cells go in the smoothed base layer, crisp cells in the overlay
function build_layers(p) {
	const soft = row_axis.map(() => az_axis.map(() => -30));
	const crisp = row_axis.map(() => az_axis.map(() => null));
	if (p.streak) {
		const z = p.soft_streak ? soft : crisp;
		p.streak[0].forEach((row, k) => {
			const db = p.streak_dbs ? p.streak_dbs[k] : p.streak_db;
			for (let c = col_of(p.streak[1][k]); c <= col_of(p.streak[2][k]); c++) set_cell(z, row, c, db);
		});
	}
	if (p.speck) {
		p.speck[0].forEach((row, k) => {
			(p.speck[1][k] || []).forEach(az => {
				for (let c = 0; c < (p.speck_cells || 1); c++) set_cell(crisp, row, col_of(az) + c, p.speck_db);
			});
		});
	}
	if (p.hot) {
		p.hot[0].forEach((row, k) => p.hot[1][k].forEach(az => set_cell(crisp, row, col_of(az), -21)));
	}
	if (p.line) {
		p.line[0].forEach((row, k) => p.line[1][k].forEach((db, c) => set_cell(crisp, row, c, db)));
	}
	p.ridge[0].forEach((row, k) => {
		p.ridge[2][k].forEach((db, c) => {
			set_cell(crisp, row, col_of(p.ridge[1][k]) + c, db);
			if (p.soft_ridge) set_cell(soft, row, col_of(p.ridge[1][k]) + c, db);
		});
	});
	return {soft, crisp};
}

const font_family = '"Liberation Sans", Arial, sans-serif';
const traces = [];
const layout = {
	width: W, height: H,
	margin: {l: 0, r: 0, t: 0, b: 0},
	paper_bgcolor: "#fff", plot_bgcolor: "#fff",
	font: {family: font_family, size: 12, color: "#262626"},
	showlegend: false,
	annotations: []
};

const letter_pos = {A: [10, 11], B: [353, 11], C: [695, 11], D: [8, 346], E: [353, 346], F: [696, 346]};

panel_letters.forEach((name, i) => {
	const p = panels[name];
	const n = i === 0 ? "" : String(i + 1);
	const [l, r, t, b] = p.box;
	const layers = build_layers(p);
	traces.push({
		type: "heatmap",
		x: az_axis, y: row_axis, z: layers.soft,
		xaxis: "x" + n, yaxis: "y" + n,
		zmin: -30, zmax: 0, zsmooth: (p.soft_streak || p.soft_ridge) ? "best" : false,
		colorscale: parula,
		hoverinfo: "skip",
		colorbar: {
			x: p.cb[0] / W, xanchor: "left", xpad: 0,
			y: 1 - b / H, yanchor: "bottom", ypad: 0,
			len: (b - t) / H, lenmode: "fraction",
			thickness: p.cb[1] - p.cb[0], thicknessmode: "pixels",
			outlinecolor: "#8a8a8a", outlinewidth: 0.8,
			tickmode: "array", tickvals: cb_ticks, ticktext: cb_tick_labels,
			ticks: "inside", ticklen: 2, tickcolor: "#555", tickwidth: 0.6,
			tickfont: {size: 12, color: "#262626", family: font_family}
		}
	});
	traces.push({
		type: "heatmap",
		x: az_axis, y: row_axis, z: layers.crisp,
		xaxis: "x" + n, yaxis: "y" + n,
		zmin: -30, zmax: 0, zsmooth: p.top_smooth,
		colorscale: parula, showscale: false,
		hoverinfo: "skip"
	});
	layout["xaxis" + n] = {
		domain: [l / W, r / W], anchor: "y" + n,
		range: [-12.04, 11.86],
		tickmode: "array", tickvals: x_ticks, ticktext: x_tick_labels,
		ticks: "inside", ticklen: 2, tickcolor: "#666", tickwidth: 0.6,
		ticklabelstandoff: 3,
		showline: true, mirror: true, linecolor: "#8a8a8a", linewidth: 0.8,
		showgrid: false, zeroline: false,
		tickfont: {size: 12, color: "#262626"},
		title: {text: "Azimuth(deg)", font: {size: 13, color: "#262626"}, standoff: 7}
	};
	layout["yaxis" + n] = {
		domain: [1 - b / H, 1 - t / H], anchor: "x" + n,
		range: [0.67, 128.7],
		tickmode: "array", tickvals: y_ticks,
		ticks: "inside", ticklen: 2, tickcolor: "#666", tickwidth: 0.6,
		showline: true, mirror: true, linecolor: "#8a8a8a", linewidth: 0.8,
		showgrid: false, zeroline: false,
		tickfont: {size: 12, color: "#262626"},
		title: {text: "Rang bins", font: {size: 13, color: "#262626"}, standoff: 4}
	};
	layout.annotations.push({
		text: "<b>" + name + "</b>", showarrow: false,
		xref: "paper", yref: "paper",
		x: letter_pos[name][0] / W, y: 1 - letter_pos[name][1] / H,
		xanchor: "center", yanchor: "middle",
		font: {size: 20, color: "#000", family: font_family}
	});
});

Plotly.newPlot("chart", traces, layout, {displayModeBar: false, responsive: false});
</script>
</body>
</html>
